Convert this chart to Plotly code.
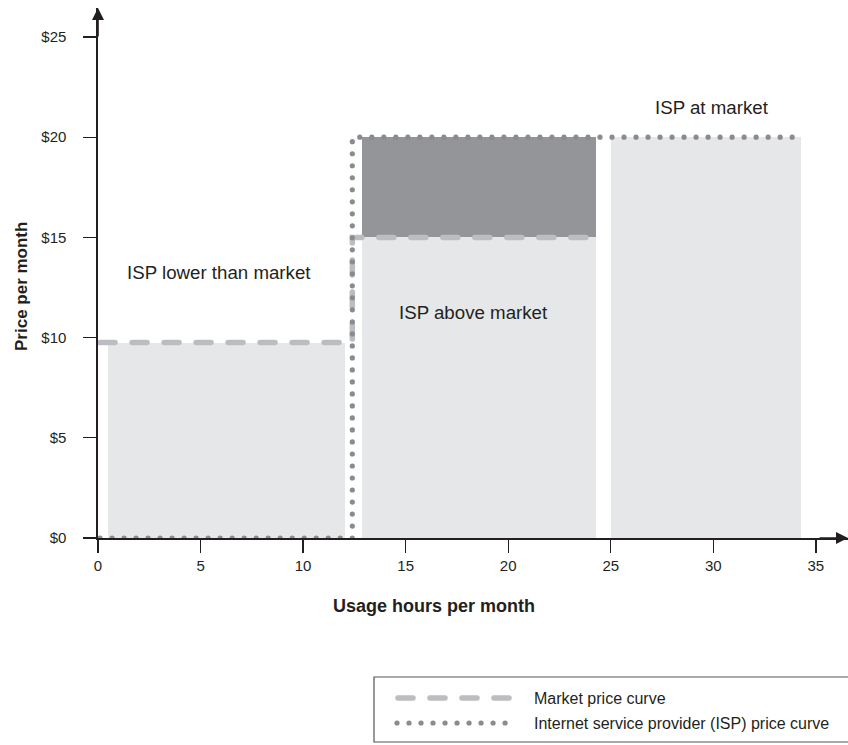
import plotly.graph_objects as go

# ---------------- data ----------------
# shaded regions (usage hours, price)
region_left = [0.5, 12.85, 25.0, 12.85]
region_right = [12.05, 24.3, 34.3, 24.3]
region_base = [0, 0, 0, 15]
region_top = [9.75, 15, 20, 20]
region_colors = ["#e6e7e8", "#e6e7e8", "#e6e7e8", "#939598"]

# market price curve
market_x = [0.1, 12.4, 12.4, 24.3]
market_y = [9.75, 9.75, 15, 15]

# ISP price curve
isp_x = [0.1, 12.4, 12.4, 34.3]
isp_y = [0, 0, 20, 20]

x_ticks = [0, 5, 10, 15, 20, 25, 30, 35]
y_ticks = [0, 5, 10, 15, 20, 25]
y_tick_labels = ["$0", "$5", "$10", "$15", "$20", "$25"]

region_labels = ["ISP lower than market", "ISP above market", "ISP at market"]
region_label_x = [5.92, 18.31, 29.96]
region_label_y = [13.25, 11.25, 21.5]

legend_names = ["Market price curve", "Internet service provider (ISP) price curve"]

# ---------------- style ----------------
FONT = "Liberation Sans, Arial, Helvetica, sans-serif"
INK = "#231f20"
DASH_COLOR = "#bcbdc0"
DOT_COLOR = "#8a8b8e"
DASH = "20px,12px"
DOT = "4.5px,7.5px"

W, H = 848, 745
L, R, T, B = 98, 0, 8, 207
PW, PH = W - L - R, H - T - B
X_MAX = PW / 20.51
Y_MAX = PH / 20.04


def px_x(p):  # page pixel -> paper
    return (p - L) / PW


def px_y(p):
    return (H - B - p) / PH


fig = go.Figure()

for l, r, b, t, c in zip(region_left, region_right, region_base, region_top, region_colors):
    fig.add_trace(go.Bar(
        x=[(l + r) / 2], y=[t - b], base=[b], width=[r - l],
        marker=dict(color=c, line=dict(width=0)),
        showlegend=False, hoverinfo="skip",
    ))

fig.add_trace(go.Scatter(
    x=market_x, y=market_y, mode="lines",
    line=dict(color=DASH_COLOR, width=5.5, dash=DASH),
    showlegend=False, hoverinfo="skip", cliponaxis=False,
))
fig.add_trace(go.Scatter(
    x=isp_x, y=isp_y, mode="lines",
    line=dict(color=DOT_COLOR, width=5.2, dash=DOT),
    showlegend=False, hoverinfo="skip", cliponaxis=False,
))

annotations = []
for txt, ax_, ay_ in zip(region_labels, region_label_x, region_label_y):
    annotations.append(dict(
        x=ax_, y=ay_, xref="x", yref="y", text=txt, showarrow=False,
        font=dict(family=FONT, size=18.7, color=INK),
        xanchor="center", yanchor="middle",
    ))

# axis titles
annotations.append(dict(
    x=px_x(434), y=px_y(606), xref="paper", yref="paper",
    text="<b>Usage hours per month</b>", showarrow=False,
    font=dict(family=FONT, size=18, color=INK), xanchor="center", yanchor="middle",
))
annotations.append(dict(
    x=px_x(21), y=px_y(287), xref="paper", yref="paper",
    text="<b>Price per month</b>", showarrow=False, textangle=-90,
    font=dict(family=FONT, size=17, color=INK), xanchor="center", yanchor="middle",
))

# axis arrows
annotations.append(dict(
    x=X_MAX, y=0, xref="x", yref="y", ax=-30, ay=0, axref="pixel", ayref="pixel",
    text="", showarrow=True, arrowhead=2, arrowsize=1.5, arrowwidth=1.6,
    arrowcolor=INK, standoff=0,
))
annotations.append(dict(
    x=0, y=Y_MAX, xref="x", yref="y", ax=0, ay=30, axref="pixel", ayref="pixel",
    text="", showarrow=True, arrowhead=2, arrowsize=1.5, arrowwidth=1.6,
    arrowcolor=INK, standoff=0,
))

# legend texts
for name, py in zip(legend_names, [698, 723]):
    annotations.append(dict(
        x=px_x(532), y=px_y(py), xref="paper", yref="paper", text=name,
        showarrow=False, font=dict(family=FONT, size=16, color=INK),
        xanchor="left", yanchor="middle",
    ))

bx0, bx1, by0, by1 = px_x(374), px_x(880), px_y(677), px_y(742)
shapes = [
    dict(type="path", xref="paper", yref="paper",
         path=f"M{bx1},{by0} L{bx0},{by0} L{bx0},{by1} L{bx1},{by1}",
         line=dict(color="#555555", width=1.2), fillcolor="rgba(0,0,0,0)"),
    dict(type="line", xref="paper", yref="paper",
         x0=px_x(398), x1=px_x(512), y0=px_y(698), y1=px_y(698),
         line=dict(color=DASH_COLOR, width=5.5, dash=DASH)),
    dict(type="line", xref="paper", yref="paper",
         x0=px_x(397), x1=px_x(510), y0=px_y(723), y1=px_y(723),
         line=dict(color=DOT_COLOR, width=5.2, dash=DOT)),
]

fig.update_layout(
    width=W, height=H,
    margin=dict(l=L, r=R, t=T, b=B, pad=0),
    paper_bgcolor="white", plot_bgcolor="white",
    barmode="overlay", bargap=0,
    showlegend=False,
    annotations=annotations,
    shapes=shapes,
    font=dict(family=FONT, color=INK),
)
fig.update_xaxes(
    range=[0, X_MAX], showgrid=False, zeroline=False,
    showline=True, linecolor=INK, linewidth=1.6,
    ticks="outside", ticklen=13, tickwidth=1.4, tickcolor=INK,
    tickvals=x_ticks, ticktext=[str(v) for v in x_ticks],
    tickfont=dict(family=FONT, size=15, color=INK),
    ticklabelstandoff=0,
)
fig.update_yaxes(
    range=[0, Y_MAX], showgrid=False, zeroline=False,
    showline=True, linecolor=INK, linewidth=1.6,
    ticks="outside", ticklen=13, tickwidth=1.4, tickcolor=INK,
    tickvals=y_ticks, ticktext=y_tick_labels,
    tickfont=dict(family=FONT, size=15, color=INK),
    ticklabelstandoff=14,
)

# page margin off, and round line caps for dotted / dashed strokes
post = """
document.documentElement.style.margin = '0';
document.documentElement.style.overflow = 'hidden';
document.body.style.margin = '0';
document.body.style.overflow = 'hidden';
var gd = document.getElementById('{plot_id}');
function roundCaps() {
  gd.querySelectorAll('path').forEach(function (p) {
    var da = (p.style.strokeDasharray || '').replace(/\\s/g, '');
    if (da.indexOf('4.5px,7.5px') === 0) {
      p.style.strokeLinecap = 'round';
      p.style.strokeDasharray = '0.01px,12px';
    } else if (da.indexOf('20px,12px') === 0) {
      p.style.strokeLinecap = 'round';
      p.style.strokeDasharray = '15px,17px';
    }
  });
}
roundCaps();
gd.on('plotly_afterplot', roundCaps);
"""

fig.write_html("out.html", post_script=post,
               config={"displayModeBar": False, "staticPlot": True})
